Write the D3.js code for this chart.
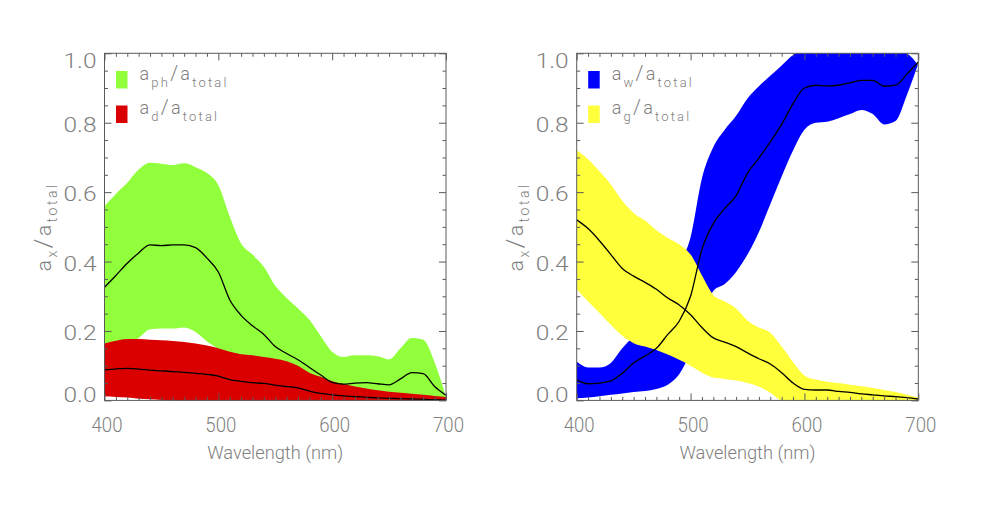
<!DOCTYPE html>
<html><head><meta charset="utf-8">
<script src="https://cdn.jsdelivr.net/npm/d3@7"></script>
<style>html,body{margin:0;padding:0;background:#fff;} svg{display:block;}</style>
</head><body>
<svg id="chart" width="982" height="510"></svg>
<script>
// ---------- data ----------
const wavelengths = [400,410,420,430,440,450,460,470,480,490,500,510,520,530,540,550,560,570,580,590,600,610,620,630,640,650,660,670,680,690,700];

// left panel: phytoplankton (green) and detritus (red)
const phUpper = [0.56,0.595,0.627,0.665,0.685,0.682,0.678,0.683,0.672,0.655,0.62,0.53,0.452,0.42,0.385,0.33,0.295,0.265,0.232,0.185,0.14,0.125,0.13,0.13,0.127,0.118,0.15,0.18,0.175,0.11,0.01];
const phMean  = [0.326,0.36,0.395,0.425,0.448,0.446,0.448,0.448,0.44,0.41,0.37,0.29,0.245,0.215,0.19,0.155,0.135,0.117,0.095,0.073,0.052,0.047,0.05,0.051,0.048,0.045,0.062,0.08,0.077,0.04,0.015];
const phLower = [0.14,0.15,0.165,0.18,0.205,0.207,0.207,0.21,0.197,0.17,0.148,0.115,0.095,0.078,0.063,0.05,0.04,0.03,0.022,0.015,0.01,0.005,0.002,0,-0.002,-0.005,-0.008,-0.01,-0.012,-0.01,0];
const dUpper  = [0.164,0.172,0.177,0.177,0.175,0.173,0.171,0.168,0.164,0.158,0.15,0.14,0.133,0.13,0.125,0.12,0.113,0.1,0.08,0.068,0.055,0.047,0.04,0.034,0.029,0.025,0.022,0.019,0.016,0.013,0.01];
const dMean   = [0.088,0.091,0.092,0.09,0.087,0.085,0.083,0.081,0.078,0.075,0.07,0.06,0.055,0.051,0.049,0.044,0.04,0.036,0.027,0.02,0.016,0.013,0.011,0.009,0.007,0.006,0.005,0.004,0.003,0.002,0.001];
const dLower  = [0.012,0.01,0.008,0.005,0.003,0.001,0,-0.002,-0.003,-0.004,-0.005,-0.005,-0.005,-0.005,-0.005,-0.005,-0.005,-0.005,-0.005,-0.005,-0.005,-0.005,-0.005,-0.005,-0.005,-0.005,-0.005,-0.005,-0.005,-0.003,0];

// right panel: water (blue) and CDOM (yellow)
const wUpper  = [0.112,0.095,0.095,0.108,0.15,0.185,0.215,0.26,0.31,0.39,0.47,0.64,0.73,0.78,0.82,0.87,0.905,0.935,0.965,0.995,1.01,1.012,1.012,1.012,1.012,1.012,1.012,1.012,1.01,1.0,0.965];
const wMean   = [0.059,0.048,0.05,0.056,0.078,0.108,0.128,0.15,0.19,0.228,0.3,0.435,0.51,0.553,0.59,0.655,0.698,0.745,0.795,0.855,0.9,0.908,0.906,0.908,0.915,0.922,0.922,0.905,0.908,0.94,0.975];
const wLower  = [0.006,0.008,0.012,0.016,0.02,0.024,0.027,0.033,0.045,0.075,0.14,0.24,0.315,0.335,0.37,0.42,0.485,0.565,0.645,0.72,0.78,0.8,0.803,0.813,0.825,0.837,0.825,0.795,0.805,0.88,0.97];
const gUpper  = [0.721,0.695,0.66,0.622,0.575,0.54,0.518,0.49,0.468,0.45,0.42,0.36,0.304,0.285,0.265,0.23,0.21,0.195,0.155,0.11,0.072,0.06,0.054,0.05,0.045,0.041,0.036,0.03,0.024,0.016,0.008];
const gMean   = [0.52,0.495,0.46,0.42,0.38,0.358,0.34,0.32,0.295,0.275,0.247,0.21,0.18,0.168,0.155,0.137,0.12,0.105,0.08,0.05,0.032,0.03,0.03,0.026,0.023,0.019,0.016,0.013,0.011,0.008,0.004];
const gLower  = [0.32,0.285,0.252,0.218,0.186,0.165,0.155,0.145,0.132,0.117,0.1,0.08,0.066,0.062,0.057,0.05,0.04,0.022,-0.002,-0.01,-0.01,-0.01,-0.01,-0.01,-0.01,-0.01,-0.01,-0.01,-0.01,-0.01,-0.01];

const xTickValues = [400,500,600,700];
const yTickValues = [0,0.2,0.4,0.6,0.8,1.0];
const xMinorTicks = [410,420,430,440,450,460,470,480,490,510,520,530,540,550,560,570,580,590,610,620,630,640,650,660,670,680,690];
const yMinorTicks = [0.05,0.1,0.15,0.25,0.3,0.35,0.45,0.5,0.55,0.65,0.7,0.75,0.85,0.9,0.95];

const xTitle = "Wavelength (nm)";

// ---------- drawing ----------
const svg = d3.select("#chart");
const FONT = "Roboto, 'Liberation Sans', Arial, sans-serif";
const WEIGHT = 300;
const TXT = "#808080";
const AX = "#5a5a5a";
const TOP = 53.3, BOTTOM = 400.4;

const panels = [
  {id:"L", x0:104.5, x1:446, bands:[
      {upper:phUpper, lower:phLower, mean:phMean, color:"#92FF3C", sub:"ph"},
      {upper:dUpper, lower:dLower, mean:dMean, color:"#DA0000", sub:"d"}]},
  {id:"R", x0:576.7, x1:918.3, bands:[
      {upper:wUpper, lower:wLower, mean:wMean, color:"#0000FF", sub:"w"},
      {upper:gUpper, lower:gLower, mean:gMean, color:"#FFFF3C", sub:"g"}]}
];

panels.forEach(p => {
  const x = d3.scaleLinear().domain([400,700]).range([p.x0, p.x1]);
  const y = d3.scaleLinear().domain([0,1]).range([BOTTOM, TOP]);
  const g = svg.append("g");

  const clipId = "clip" + p.id;
  svg.append("defs").append("clipPath").attr("id", clipId)
    .append("rect").attr("x", p.x0).attr("y", TOP).attr("width", p.x1 - p.x0).attr("height", BOTTOM - TOP);

  const plot = g.append("g").attr("clip-path", `url(#${clipId})`);
  p.bands.forEach(b => {
    const data = wavelengths.map((w,i) => ({w, lo:b.lower[i], hi:b.upper[i]}));
    const area = d3.area().x(d => x(d.w)).y0(d => y(d.lo)).y1(d => y(d.hi)).curve(d3.curveMonotoneX);
    plot.append("path").datum(data).attr("d", area).attr("fill", b.color);
  });
  p.bands.forEach(b => {
    const data = wavelengths.map((w,i) => ({w, v:b.mean[i]}));
    const line = d3.line().x(d => x(d.w)).y(d => y(d.v)).curve(d3.curveMonotoneX);
    plot.append("path").datum(data).attr("d", line).attr("fill","none").attr("stroke","#000").attr("stroke-width",1.3);
  });

  // axes: ticks pointing inward on all four sides
  const styleAxis = sel => { sel.select(".domain").remove(); sel.selectAll("line").attr("stroke", AX); };
  g.append("g").attr("transform",`translate(0,${BOTTOM})`).call(d3.axisBottom(x).tickValues(xMinorTicks).tickSize(-3.5).tickFormat("")).call(styleAxis);
  g.append("g").attr("transform",`translate(0,${TOP})`).call(d3.axisTop(x).tickValues(xMinorTicks).tickSize(-3.5).tickFormat("")).call(styleAxis);
  g.append("g").attr("transform",`translate(0,${TOP})`).call(d3.axisTop(x).tickValues(xTickValues).tickSize(-7).tickFormat("")).call(styleAxis);
  g.append("g").attr("transform",`translate(${p.x0},0)`).call(d3.axisLeft(y).tickValues(yMinorTicks).tickSize(-3.5).tickFormat("")).call(styleAxis);
  g.append("g").attr("transform",`translate(${p.x1},0)`).call(d3.axisRight(y).tickValues(yMinorTicks).tickSize(-3.5).tickFormat("")).call(styleAxis);
  g.append("g").attr("transform",`translate(${p.x1},0)`).call(d3.axisRight(y).tickValues(yTickValues).tickSize(-7).tickFormat("")).call(styleAxis);

  const xb = g.append("g").attr("transform",`translate(0,${BOTTOM})`)
    .call(d3.axisBottom(x).tickValues(xTickValues).tickSize(-7).tickFormat(d3.format("d"))).call(styleAxis);
  xb.selectAll("text").attr("x", 2).attr("y", 32).attr("dy", null)
    .attr("font-family", FONT).attr("font-weight", WEIGHT).attr("font-size", 20).attr("fill", TXT)
    .attr("textLength", 31).attr("lengthAdjust", "spacingAndGlyphs");

  const yl = g.append("g").attr("transform",`translate(${p.x0},0)`)
    .call(d3.axisLeft(y).tickValues(yTickValues).tickSize(-7).tickFormat(d3.format(".1f"))).call(styleAxis);
  yl.selectAll("text").attr("x", -8).attr("dy", d => d === 1 ? "14.5px" : (d === 0 ? "1.3px" : "8.8px"))
    .attr("font-family", FONT).attr("font-weight", WEIGHT).attr("font-size", 20).attr("fill", TXT)
    .attr("textLength", 33).attr("lengthAdjust", "spacingAndGlyphs");

  // frame
  g.append("rect").attr("x", p.x0).attr("y", TOP).attr("width", p.x1 - p.x0).attr("height", BOTTOM - TOP)
    .attr("fill","none").attr("stroke", AX).attr("stroke-width", 1);

  // x title
  g.append("text").attr("x", (p.x0 + p.x1)/2).attr("y", 459).attr("text-anchor","middle")
    .attr("font-family", FONT).attr("font-weight", WEIGHT).attr("font-size", 19).attr("fill", TXT)
    .attr("textLength", 136).attr("lengthAdjust", "spacingAndGlyphs").text(xTitle);

  // y title a_x / a_total
  const yt = g.append("text").attr("transform", `translate(${p.x0 - 54},${(TOP+BOTTOM)/2}) rotate(-90)`)
    .attr("text-anchor","middle").attr("font-family", FONT).attr("font-weight", WEIGHT).attr("fill", TXT).attr("font-size", 21)
    .attr("letter-spacing", 2.5);
  yt.append("tspan").text("a");
  yt.append("tspan").attr("font-size", 14).attr("dy", 6).text("x");
  yt.append("tspan").attr("font-size", 24).attr("dy", -6).text("/");
  yt.append("tspan").text("a");
  yt.append("tspan").attr("font-size", 14).attr("dy", 6).text("total");

  // legend
  p.bands.forEach((b, i) => {
    const top = 71 + i * 34.5;
    g.append("rect").attr("x", p.x0 + 11.5).attr("y", top).attr("width", 11.5).attr("height", 17.5).attr("fill", b.color);
    const t = g.append("text").attr("x", p.x0 + 35).attr("y", top + 8.5)
      .attr("font-family", FONT).attr("font-weight", WEIGHT).attr("fill", TXT).attr("font-size", 18).attr("letter-spacing", 2.2);
    t.append("tspan").text("a");
    t.append("tspan").attr("font-size", 13).attr("dy", 7).text(b.sub);
    t.append("tspan").attr("font-size", 20).attr("dy", -7).text("/");
    t.append("tspan").text("a");
    t.append("tspan").attr("font-size", 13).attr("dy", 7).text("total");
  });
});
</script>
</body></html>
